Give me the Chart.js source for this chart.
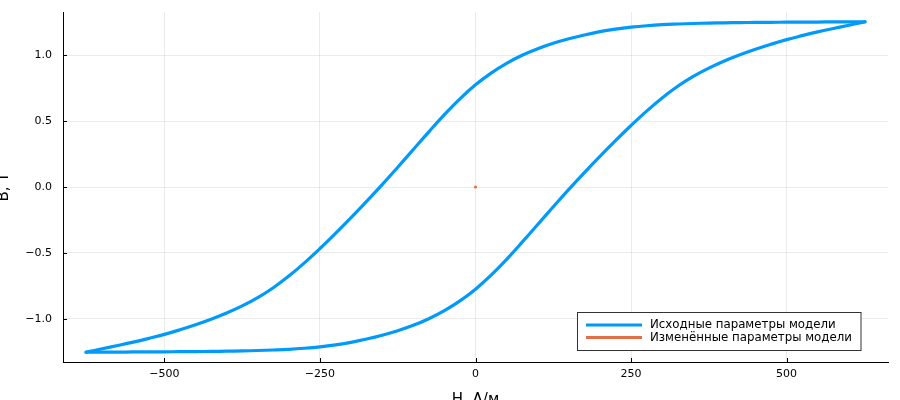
<!DOCTYPE html>
<html>
<head>
<meta charset="utf-8">
<script src="https://cdn.jsdelivr.net/npm/chart.js@4.4.0/dist/chart.umd.min.js"></script>
<style>
  html, body { margin: 0; padding: 0; background: #fff; overflow: hidden; }
  #wrap { width: 900px; height: 400px; position: relative; }
</style>
</head>
<body>
<div id="wrap"><canvas id="loop" width="900" height="400"></canvas></div>
<script>
'use strict';

// descending branch (H from +max to -max)
const upperH = [626, 600, 575, 550, 525, 500, 475, 450, 425, 400, 375, 350, 325, 300, 275, 250, 225, 200, 175, 150, 125, 100, 75, 50, 25, 0,
  -25, -50, -75, -100, -125, -150, -175, -200, -225, -250, -275, -300, -325, -350, -375, -400, -425, -450, -475, -500, -525, -550, -575, -600, -626];
const upperB = [1.252, 1.251, 1.251, 1.250, 1.250, 1.249, 1.248, 1.247, 1.246, 1.244, 1.242, 1.239, 1.235, 1.230, 1.222, 1.211, 1.196, 1.177, 1.152, 1.123, 1.089, 1.048, 0.998, 0.937, 0.863, 0.774,
  0.668, 0.548, 0.418, 0.284, 0.150, 0.018, -0.109, -0.232, -0.351, -0.466, -0.575, -0.675, -0.763, -0.838, -0.901, -0.955, -1.002, -1.044, -1.082, -1.117, -1.147, -1.175, -1.201, -1.226, -1.251];

// ascending branch (H from -max to +max)
const lowerH = [-626, -600, -575, -550, -525, -500, -475, -450, -425, -400, -375, -350, -325, -300, -275, -250, -225, -200, -175, -150, -125, -100, -75, -50, -25, 0,
  25, 50, 75, 100, 125, 150, 175, 200, 225, 250, 275, 300, 325, 350, 375, 400, 425, 450, 475, 500, 525, 550, 575, 600, 626];
const lowerB = [-1.252, -1.251, -1.251, -1.250, -1.250, -1.249, -1.248, -1.247, -1.246, -1.244, -1.242, -1.239, -1.235, -1.230, -1.222, -1.211, -1.196, -1.177, -1.152, -1.123, -1.089, -1.048, -0.998, -0.937, -0.863, -0.774,
  -0.668, -0.548, -0.418, -0.284, -0.150, -0.018, 0.109, 0.232, 0.351, 0.466, 0.575, 0.675, 0.763, 0.838, 0.901, 0.955, 1.002, 1.044, 1.082, 1.117, 1.147, 1.175, 1.201, 1.226, 1.251];

// modified parameters series (a single point)
const changedH = [0];
const changedB = [0];

const xTicks = [-500, -250, 0, 250, 500];
const yTicks = [-1.0, -0.5, 0.0, 0.5, 1.0];

const seriesLabels = ['Исходные параметры модели', 'Изменённые параметры модели'];
const axisTitles = { x: 'H, А/м', y: 'B, Т' };

const blue = '#009AFA';
const orange = '#E36F47';
const fontFamily = '"DejaVu Sans", sans-serif';

const toPoints = function (xs, ys) {
  return xs.map((x, i) => ({ x: x, y: ys[i] }));
};

const minus = function (s) {
  return String(s).replace('-', '\u2212');
};

// inward tick marks, axis titles and the legend box
const decorations = {
  id: 'decorations',
  afterDraw(chart) {
    const ctx = chart.ctx;
    const area = chart.chartArea;
    const xs = chart.scales.x;
    const ys = chart.scales.y;
    ctx.save();

    ctx.strokeStyle = '#000';
    ctx.lineWidth = 1;
    ctx.beginPath();
    xTicks.forEach(v => {
      const px = Math.round(xs.getPixelForValue(v)) + 0.5;
      ctx.moveTo(px, area.bottom);
      ctx.lineTo(px, area.bottom - 4);
    });
    yTicks.forEach(v => {
      const py = Math.round(ys.getPixelForValue(v)) + 0.5;
      ctx.moveTo(area.left, py);
      ctx.lineTo(area.left + 4, py);
    });
    ctx.stroke();

    // axis titles (partly cut by the canvas edge, as in the original)
    ctx.fillStyle = '#000';
    ctx.font = '15px ' + fontFamily;
    ctx.textAlign = 'center';
    ctx.textBaseline = 'alphabetic';
    ctx.fillText(axisTitles.x, (area.left + area.right) / 2, 404);
    ctx.save();
    ctx.translate(8, (area.top + area.bottom) / 2);
    ctx.rotate(-Math.PI / 2);
    ctx.fillText(axisTitles.y, 0, 0);
    ctx.restore();

    // legend
    const lx = 577.5, ly = 312.5, lw = 283.5, lh = 38;
    ctx.fillStyle = '#fff';
    ctx.fillRect(lx, ly, lw, lh);
    ctx.strokeStyle = '#333';
    ctx.lineWidth = 1;
    ctx.strokeRect(lx, ly, lw, lh);
    const rows = [{ label: seriesLabels[0], color: blue, y: 325 }, { label: seriesLabels[1], color: orange, y: 337.5 }];
    ctx.font = '11.8px ' + fontFamily;
    ctx.textAlign = 'left';
    ctx.textBaseline = 'middle';
    rows.forEach(r => {
      ctx.strokeStyle = r.color;
      ctx.lineWidth = 3;
      ctx.beginPath();
      ctx.moveTo(586, r.y);
      ctx.lineTo(642, r.y);
      ctx.stroke();
      ctx.fillStyle = '#000';
      ctx.fillText(r.label, 650, r.y);
    });

    ctx.restore();
  }
};

const ctx = document.getElementById('loop').getContext('2d');

const branchStyle = {
  showLine: true,
  borderColor: blue,
  borderWidth: 3.2,
  pointRadius: 0,
  tension: 0.4,
  borderCapStyle: 'round',
  borderJoinStyle: 'round'
};

const loopChart = new Chart(ctx, {
  type: 'scatter',
  data: {
    datasets: [
      Object.assign({ label: seriesLabels[0], data: toPoints(upperH, upperB) }, branchStyle),
      Object.assign({ label: seriesLabels[0], data: toPoints(lowerH, lowerB) }, branchStyle),
      {
        label: seriesLabels[1],
        data: toPoints(changedH, changedB),
        showLine: false,
        pointRadius: 1.6,
        pointBorderWidth: 0,
        pointBackgroundColor: orange,
        borderColor: orange
      }
    ]
  },
  options: {
    responsive: false,
    animation: false,
    layout: { padding: { top: 12, right: 12, left: 0, bottom: 0 } },
    plugins: {
      legend: { display: false },
      tooltip: { enabled: false }
    },
    scales: {
      x: {
        type: 'linear',
        min: -663,
        max: 663,
        afterBuildTicks: s => { s.ticks = xTicks.map(v => ({ value: v })); },
        afterFit: s => { s.height = 38; s.paddingLeft = 0; s.paddingRight = 0; },
        ticks: {
          autoSkip: false,
          maxRotation: 0,
          padding: 6,
          color: '#000',
          font: { size: 11, family: fontFamily },
          callback: v => minus(v)
        },
        grid: { color: 'rgba(0,0,0,0.08)', lineWidth: 1, drawTicks: false },
        border: { color: '#000', width: 1 }
      },
      y: {
        type: 'linear',
        min: -1.326,
        max: 1.326,
        afterBuildTicks: s => { s.ticks = yTicks.map(v => ({ value: v })); },
        afterFit: s => { s.width = 63; s.paddingTop = 0; s.paddingBottom = 0; },
        ticks: {
          autoSkip: false,
          padding: 11,
          color: '#000',
          font: { size: 11, family: fontFamily },
          callback: v => minus(Number(v).toFixed(1))
        },
        grid: { color: 'rgba(0,0,0,0.08)', lineWidth: 1, drawTicks: false },
        border: { color: '#000', width: 1 }
      }
    }
  },
  plugins: [decorations]
});
</script>
</body>
</html>
